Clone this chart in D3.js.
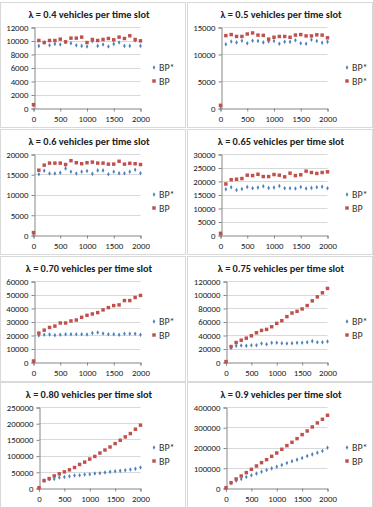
<!DOCTYPE html>
<html>
<head>
<meta charset="utf-8">
<script src="https://cdn.jsdelivr.net/npm/d3@7"></script>
<style>
	body { margin: 0; background: #fff; }
	text { font-family: Carlito, Calibri, "Liberation Sans Narrow", "Liberation Sans", sans-serif; }
</style>
</head>
<body>
<div id="chart"></div>
<script>
var slots = [0, 100, 200, 300, 400, 500, 600, 700, 800, 900, 1000, 1100, 1200, 1300, 1400, 1500, 1600, 1700, 1800, 1900, 2000];
var xTicks = [0, 500, 1000, 1500, 2000];

var titles = [
	"λ = 0.4 vehicles per time slot",
	"λ = 0.5 vehicles per time slot",
	"λ = 0.6 vehicles per time slot",
	"λ = 0.65 vehicles per time slot",
	"λ = 0.70 vehicles per time slot",
	"λ = 0.75 vehicles per time slot",
	"λ = 0.80 vehicles per time slot",
	"λ = 0.9 vehicles per time slot"
];
var yMax = [12000, 15000, 20000, 30000, 60000, 120000, 250000, 400000];
var yStep = [2000, 5000, 5000, 5000, 10000, 20000, 50000, 100000];
var legendA = ["BP*", "BP*", "BP*", "BP*", "BP*", "BP*", "BP*", "BP*"];
var legendB = ["BP", "BP*", "BP", "BP", "BP", "BP", "BP", "BP"];

var bpStar1 = [400, 9200, 9700, 9300, 9500, 9400, 9800, 9600, 9300, 9200, 9100, 9900, 9200, 9400, 9100, 9500, 9700, 9200, 9200, 10000, 9200];
var bp1 = [500, 10000, 9700, 10000, 10000, 10200, 9800, 10350, 10350, 10500, 9700, 10150, 10000, 10150, 10300, 10100, 10500, 10300, 10700, 10150, 9950];
var bpStar2 = [300, 11800, 12300, 12150, 12450, 12000, 12450, 12400, 12150, 12300, 12400, 11900, 12250, 12250, 12550, 12000, 11900, 12650, 12400, 12100, 12250];
var bp2 = [500, 13400, 13600, 13250, 13250, 13700, 13900, 13500, 13450, 12750, 13100, 13250, 13250, 13100, 13500, 13600, 13350, 13350, 13550, 13500, 13000];
var bpStar3 = [400, 15000, 15850, 15200, 15200, 15350, 16450, 15600, 15200, 15600, 15800, 15100, 15950, 15950, 15000, 15600, 15250, 15250, 15600, 16100, 15250];
var bp3 = [600, 16000, 17250, 17750, 17750, 17750, 17400, 18350, 17850, 17600, 17850, 18000, 17750, 17750, 17500, 17500, 18200, 17500, 17700, 17600, 17400];
var bpStar4 = [500, 16950, 17700, 16700, 17050, 17800, 17300, 17550, 18050, 17450, 17550, 18150, 17300, 17300, 17200, 17800, 17200, 17450, 17700, 17900, 17300];
var bp4 = [600, 18900, 20500, 20650, 20900, 22150, 22000, 22500, 21650, 21650, 22400, 22150, 21550, 22900, 22000, 22300, 23650, 23150, 22800, 23150, 23400];
var bpStar5 = [500, 19700, 20200, 20400, 19900, 20200, 20600, 20600, 20600, 20600, 20400, 21400, 21900, 21100, 20600, 20600, 20200, 20900, 20900, 20900, 20200];
var bp5 = [700, 21400, 23600, 25600, 26600, 28900, 28900, 30400, 31100, 33100, 34600, 35600, 36600, 38600, 40300, 41800, 42300, 45500, 45500, 47800, 49300];
var bpStar6 = [300, 20900, 23900, 24400, 23900, 24900, 24900, 27400, 26400, 28400, 28400, 27900, 27400, 27900, 28400, 28400, 29400, 30900, 29400, 29400, 30400];
var bp6 = [500, 22900, 28900, 32300, 35300, 38800, 43300, 46800, 48300, 52200, 57200, 61200, 67200, 72600, 75100, 78600, 83600, 90600, 96500, 102500, 109000];
var bpStar7 = [500, 22800, 27000, 28000, 32200, 34200, 36300, 38400, 39400, 41500, 42500, 44600, 45600, 47700, 49800, 51900, 52900, 55000, 57000, 59100, 63300];
var bp7 = [800, 22800, 29000, 37300, 43600, 49800, 56000, 63300, 72600, 79900, 89200, 97500, 107900, 117200, 126600, 137000, 147300, 157700, 168000, 181500, 194000];
var bpStar8 = [500, 23000, 36000, 44500, 54000, 62500, 71000, 80500, 89000, 97000, 105000, 114000, 123500, 132000, 140000, 148000, 158000, 166000, 174500, 183000, 199000];
var bp8 = [1000, 26400, 44500, 59300, 75800, 92200, 108700, 125200, 140000, 156500, 173000, 191100, 209200, 225700, 243800, 263600, 281700, 301500, 321300, 339400, 359100];

var seriesA = [bpStar1, bpStar2, bpStar3, bpStar4, bpStar5, bpStar6, bpStar7, bpStar8];
var seriesB = [bp1, bp2, bp3, bp4, bp5, bp6, bp7, bp8];

var blue = "#4f81bd";
var red = "#c0504d";

var svg = d3.select("#chart")
	.append("svg")
	.attr("width", 373)
	.attr("height", 507);

svg.append("rect").attr("width", 373).attr("height", 507).attr("fill", "#fff");

var rowTop = [0, 127, 254, 380];
var colLeft = [0, 187];

for (var p = 0; p < 8; p++) {
	var col = p % 2;
	var row = Math.floor(p / 2);
	var ox = colLeft[col];
	var oy = rowTop[row];

	var g = svg.append("g").attr("transform", "translate(" + ox + "," + oy + ")");

	// panel frame
	g.append("rect")
		.attr("x", 0.5).attr("y", 2.5)
		.attr("width", 185).attr("height", 125)
		.attr("fill", "#fff")
		.attr("stroke", "#d9d9d9");

	var digits = String(yMax[p]).length;
	var left = digits > 5 ? 39 : 33.5;
	var right = 140.5;

	var x = d3.scaleLinear().domain([0, 2000]).range([left, right]);
	var y = d3.scaleLinear().domain([0, yMax[p]]).range([108, 27]);
	var yTicks = d3.range(0, yMax[p] + 1, yStep[p]);

	// gridlines
	g.selectAll(".grid")
		.data(yTicks.slice(1))
		.enter().append("line")
		.attr("x1", left).attr("x2", right)
		.attr("y1", function(d) { return Math.round(y(d)) + 0.5; })
		.attr("y2", function(d) { return Math.round(y(d)) + 0.5; })
		.attr("stroke", "#d9d9d9");

	var yAxis = g.append("g")
		.attr("transform", "translate(" + Math.round(left) + ".5,0.5)")
		.call(d3.axisLeft(y).tickValues(yTicks).tickSize(3).tickPadding(3).tickFormat(d3.format("d")));
	var xAxis = g.append("g")
		.attr("transform", "translate(0," + (Math.round(y(0)) + 0.5) + ")")
		.call(d3.axisBottom(x).tickValues(xTicks).tickSize(3).tickPadding(4).tickFormat(d3.format("d")));

	[yAxis, xAxis].forEach(function(a) {
		a.select(".domain").attr("stroke", "#868686");
		a.selectAll(".tick line").attr("stroke", "#868686");
		a.selectAll("text").attr("fill", "#222").style("font-size", "8.8px").style("font-family", null);
	});

	g.append("text")
		.attr("x", col == 0 ? 89 : 94)
		.attr("y", 17.5)
		.attr("text-anchor", "middle")
		.style("font-size", "10.3px")
		.style("font-weight", "bold")
		.attr("fill", "#222")
		.text(titles[p]);

	var ptsA = slots.map(function(s, i) { return { x: s, y: seriesA[p][i] }; });
	var ptsB = slots.map(function(s, i) { return { x: s, y: seriesB[p][i] }; });

	g.selectAll(".a")
		.data(ptsA)
		.enter().append("path")
		.attr("d", d3.symbol().type(d3.symbolDiamond).size(6))
		.attr("transform", function(d) { return "translate(" + x(d.x) + "," + y(d.y) + ")"; })
		.attr("fill", blue);

	g.selectAll(".b")
		.data(ptsB)
		.enter().append("path")
		.attr("d", d3.symbol().type(d3.symbolSquare).size(12))
		.attr("transform", function(d) { return "translate(" + x(d.x) + "," + y(d.y) + ")"; })
		.attr("fill", red);

	// legend
	var lx = col == 0 ? 154 : 160;
	g.append("path")
		.attr("d", d3.symbol().type(d3.symbolDiamond).size(6))
		.attr("transform", "translate(" + lx + ",67.5)")
		.attr("fill", blue);
	g.append("path")
		.attr("d", d3.symbol().type(d3.symbolSquare).size(12))
		.attr("transform", "translate(" + lx + ",81)")
		.attr("fill", red);
	g.append("text")
		.attr("x", lx + 5).attr("y", 71)
		.style("font-size", "10px").attr("fill", "#333")
		.text(legendA[p]);
	g.append("text")
		.attr("x", lx + 5).attr("y", 84.5)
		.style("font-size", "10px").attr("fill", "#333")
		.text(legendB[p]);
}
</script>
</body>
</html>
